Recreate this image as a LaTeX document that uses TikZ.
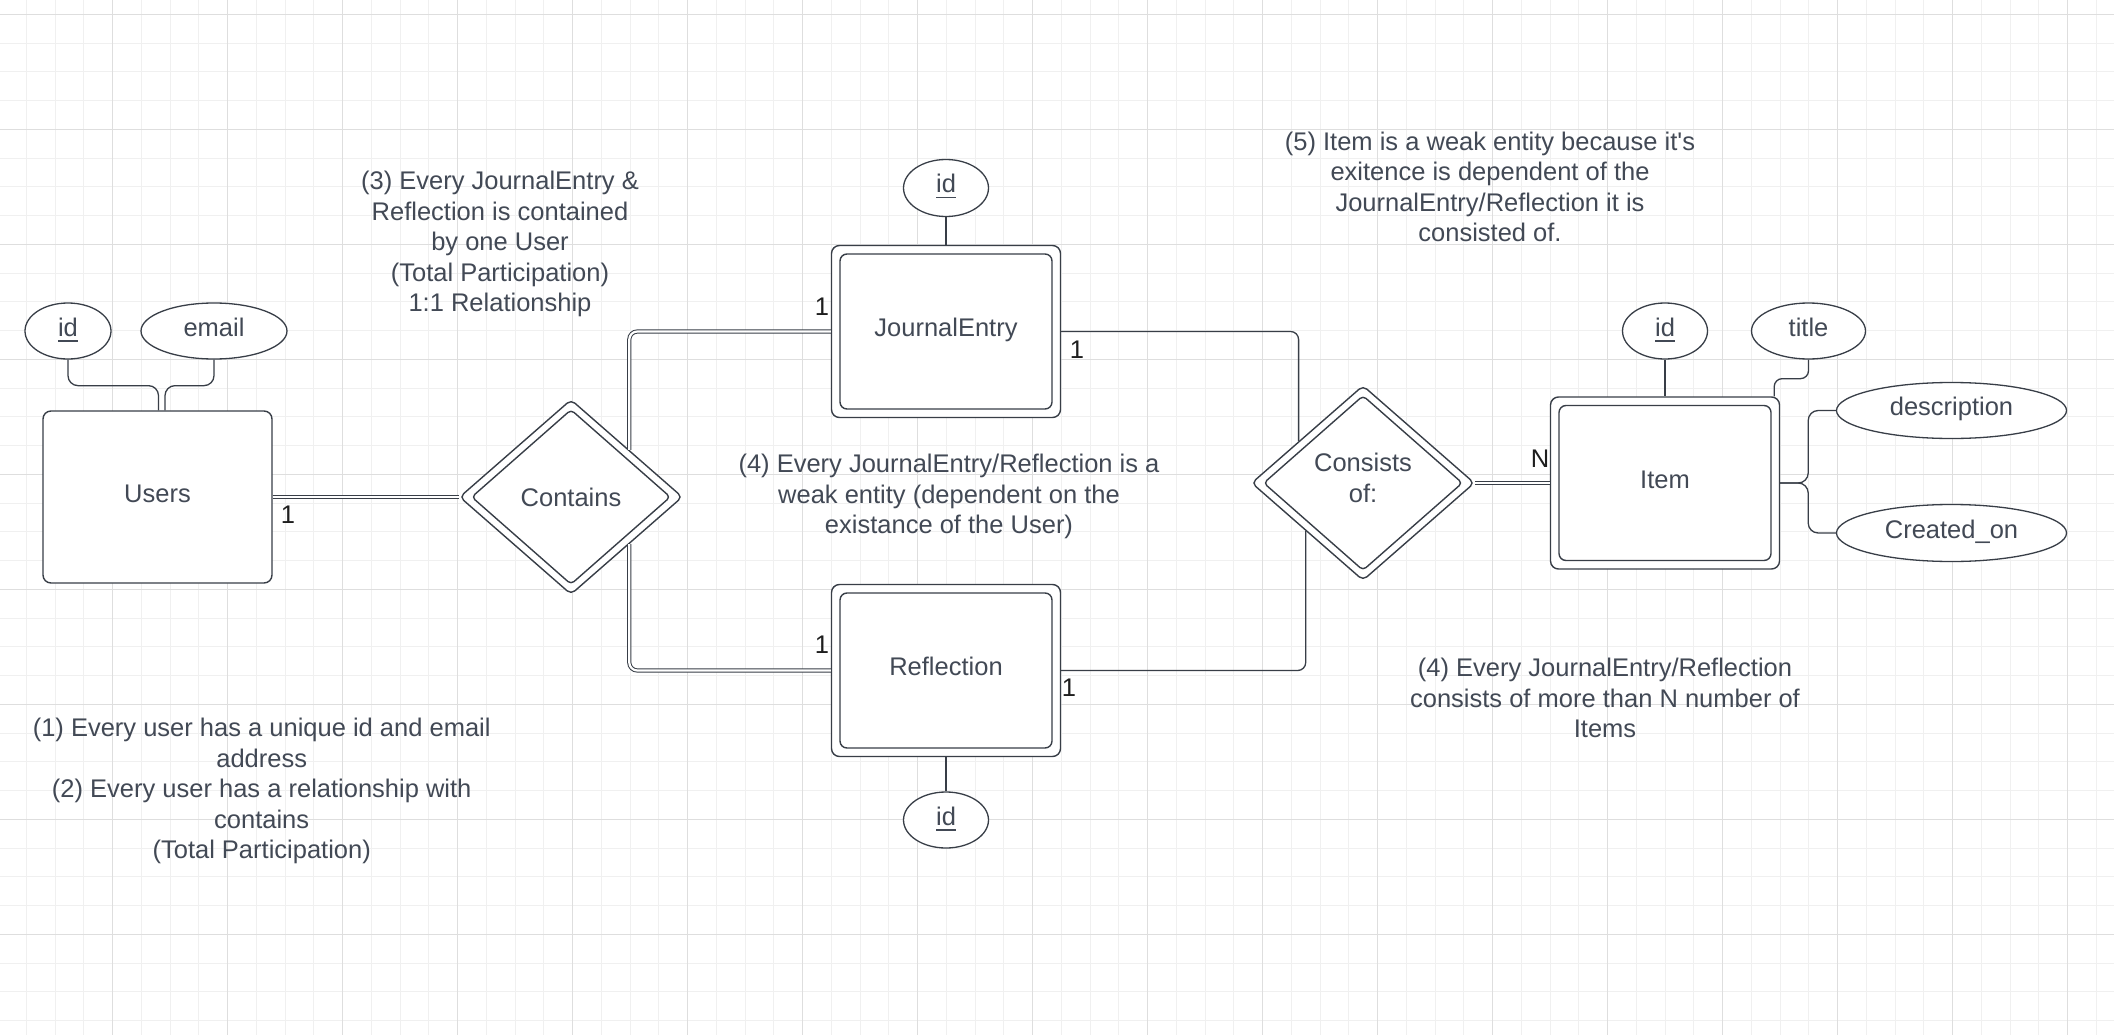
\documentclass[tikz,border=0pt]{standalone}
\usepackage{fontspec}
\newfontfamily\lsans{Liberation Sans}
\usetikzlibrary{shapes.geometric}
\definecolor{lc}{RGB}{56,62,71}
\definecolor{tc}{RGB}{66,73,85}
\definecolor{cc}{RGB}{30,30,30}
\definecolor{gmin}{RGB}{240,240,240}
\definecolor{gmaj}{RGB}{222,222,222}
\newcommand{\fsz}{\lsans\fontsize{25.5pt}{30.5pt}\selectfont}
\newcommand{\myul}[1]{\sbox0{#1}\rlap{\rule[-5.5pt]{\wd0}{1.5pt}}\usebox0}
\begin{document}
\begin{tikzpicture}[x=1pt,y=-1pt,
  sline/.style={draw=lc, line width=1.3pt},
  dline/.style={draw=lc, line width=1pt, double=white, double distance=2.2pt},
  lbl/.style={font=\fsz, text=tc, text height=17pt, text depth=7pt},
  ent/.style={draw=lc, line width=1.4pt, rounded corners=8pt, fill=white,
    minimum width=229pt, minimum height=172pt, inner sep=0pt, lbl},
  entin/.style={draw=lc, line width=1.4pt, rounded corners=7pt,
    minimum width=212pt, minimum height=155pt, inner sep=0pt},
  rel/.style={diamond, draw=lc, line width=1.4pt, rounded corners=5pt, fill=white,
    minimum width=223pt, minimum height=195pt, inner sep=1pt, font=\fsz, text=tc, align=center},
  relin/.style={diamond, draw=lc, line width=1.4pt, rounded corners=4pt,
    minimum width=199pt, minimum height=175pt, inner sep=0pt},
  attr/.style={ellipse, draw=lc, line width=1.3pt, fill=white, inner sep=0pt, lbl},
  card/.style={font=\fsz, text=cc, inner sep=0pt},
  note/.style={font=\fsz, text=tc, align=center, inner sep=0pt}]
\useasboundingbox (0,0) rectangle (2114,1035);
\fill[white] (0,0) rectangle (2114,1035);
% grid
\begin{scope}
\clip (0,0) rectangle (2114,1035);
\foreach \i in {-4,...,70} \draw[gmin, line width=1pt] ({112.7+28.75*\i},0) -- ({112.7+28.75*\i},1035);
\foreach \i in {-5,...,32} \draw[gmin, line width=1pt] (0,{129.3+28.75*\i}) -- (2114,{129.3+28.75*\i});
\foreach \i in {-1,...,17} \draw[gmaj, line width=1.2pt] ({112.7+115*\i},0) -- ({112.7+115*\i},1035);
\foreach \i in {-1,...,8} \draw[gmaj, line width=1.2pt] (0,{129.3+115*\i}) -- (2114,{129.3+115*\i});
\end{scope}

% entities
\node[ent] (users) at (157.5,497) {Users};
\node[ent] (je) at (946,331.5) {JournalEntry};
\node[entin] (je-in) at (je.center) {};
\node[ent] (refl) at (946,670.5) {Reflection};
\node[entin] (refl-in) at (refl.center) {};
\node[ent] (item) at (1665,483) {Item};
\node[entin] (item-in) at (item.center) {};

% relationships
\node[rel] (contains) at (571,497) {Contains};
\node[relin] (contains-in) at (contains.center) {};
\node[rel] (consists) at (1363,483) {\raisebox{-4pt}[0pt][0pt]{\begin{tabular}{@{}c@{}}Consists\\of:\end{tabular}}};
\node[relin] (consists-in) at (consists.center) {};

% attributes
\node[attr, minimum width=86pt, minimum height=56pt] (uid) at (68,331) {\myul{id}};
\node[attr, minimum width=146pt, minimum height=56pt] (uemail) at (214,331) {email};
\node[attr, minimum width=85pt, minimum height=57pt] (jeid) at (946,188) {\myul{id}};
\node[attr, minimum width=85pt, minimum height=56pt] (rid) at (946,820) {\myul{id}};
\node[attr, minimum width=85pt, minimum height=56pt] (iid) at (1665,331) {\myul{id}};
\node[attr, minimum width=114pt, minimum height=56pt] (ititle) at (1808.5,331) {title};
\node[attr, minimum width=230pt, minimum height=56pt] (idesc) at (1951.5,410.5) {description};
\node[attr, minimum width=230pt, minimum height=57pt] (icreated) at (1951.5,533) {Created\_on};

% connectors
\draw[dline] (users.east) -- (contains.west);
\draw[dline, rounded corners=8pt] (contains.39) |- (je.west);
\draw[dline, rounded corners=8pt] (contains.321) |- (refl.west);
\draw[sline, rounded corners=8pt] (je.east) -| (consists.147.5);
\draw[sline, rounded corners=8pt] (refl.east) -| (consists.220);
\draw[dline] (consists.east) -- (item.west);
\draw[sline] (jeid.south) -- (je.north);
\draw[sline] (rid.north) -- (refl.south);
\draw[sline] (iid.south) -- (item.north);
\draw[sline, rounded corners=10pt] (uid.south) -- ++(0,26) -| ([xshift=1pt]users.north);
\draw[sline, rounded corners=10pt] (uemail.south) -- ++(0,26) -| ([xshift=7.5pt]users.north);
\draw[sline, rounded corners=8pt] (ititle.south) -- ++(0,19) -| ([xshift=-6pt]item.north east);
\draw[sline, rounded corners=10pt] (item.east) -- ++(28,0) |- (idesc.west);
\draw[sline, rounded corners=10pt] (item.east) -- ++(28,0) |- (icreated.west);

% cardinalities
\node[card] (c-users) at (288,515) {1};
\node[card] (c-je-l) at (822,307) {1};
\node[card] (c-je-r) at (1077,350) {1};
\node[card] (c-refl-l) at (822,645) {1};
\node[card] (c-refl-r) at (1069,688) {1};
\node[card] (c-item) at (1540,459) {N};

% notes
\node[note] (n3) at (500,244) {(3) Every JournalEntry \&\\Reflection is contained\\by one User\\(Total Participation)\\1:1 Relationship};
\node[note] (n5) at (1490,187) {(5) Item is a weak entity because it's\\exitence is dependent of the\\JournalEntry/Reflection it is\\consisted of.};
\node[note] (n4a) at (949,496.5) {(4) Every JournalEntry/Reflection is a\\weak entity (dependent on the\\existance of the User)};
\node[note] (n4b) at (1605,698) {(4) Every JournalEntry/Reflection\\consists of more than N number of\\Items};
\node[note] (n1) at (261.7,791) {(1) Every user has a unique id and email\\address\\(2) Every user has a relationship with\\contains\\(Total Participation)};
\end{tikzpicture}
\end{document}
